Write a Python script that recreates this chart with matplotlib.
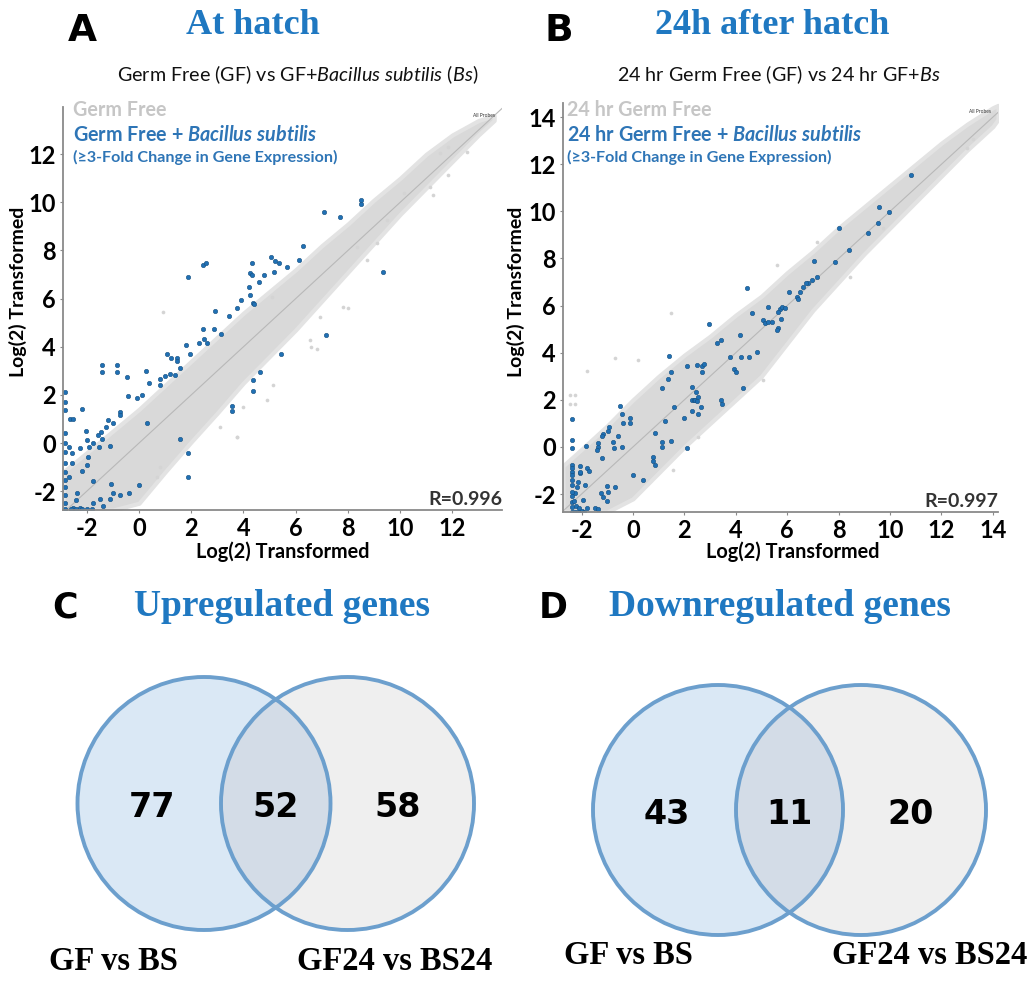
import matplotlib
matplotlib.use('Agg')
import matplotlib.pyplot as plt
from matplotlib.patches import Circle

W, H = 1036, 983
plt.rcParams['font.family'] = ['Lato', 'DejaVu Sans']
plt.rcParams['mathtext.fontset'] = 'custom'
plt.rcParams['mathtext.rm'] = 'Lato'
plt.rcParams['mathtext.it'] = 'Lato:italic'
plt.rcParams['mathtext.bf'] = 'Lato:bold'
plt.rcParams['mathtext.bfit'] = 'Lato:italic:bold'

# ---------------- data ----------------
# Panel A: gray cloud envelope (all probes)
a_band_x = [-2.9, -2, -1, 0, 1, 2, 3, 4, 5, 6, 7, 8, 9, 10, 11, 12, 13, 13.6]
a_band_lo = [-2.78, -2.78, -2.78, -2.5, -1.2, 0.05, 1.25, 2.5, 3.6, 4.7, 5.9, 7.1, 8.3, 9.5, 10.6, 11.7, 12.8, 13.4]
a_band_hi = [-1.2, -0.4, 0.5, 1.4, 2.4, 3.4, 4.4, 5.4, 6.3, 7.2, 8.2, 9.1, 10.1, 11.0, 12.0, 12.8, 13.4, 13.6]
a_gray_x = [0.93, 3.75, 8.02, 6.6, 6.8, 11.53, 11.85, 12.55, 11.15, 11.27, 11.85, 7.83, 6.93, 6.55,
            9.49, 9.11, 8.34, 8.72, 5.08, 10.13, 5.15, 4.89, 3.74, 3.1, 0.8, 0.68, 4.0]
a_gray_y = [5.45, 0.25, 5.6, 4.0, 3.9, 12.03, 12.3, 12.1, 10.65, 10.3, 11.14, 5.66, 5.25, 4.28,
            9.27, 8.3, 8.16, 7.6, 6.08, 10.37, 2.4, 1.79, 0.27, 0.68, -0.99, -1.4, 1.51]
a_blue_x = [8.5, 8.5, 7.09, 7.7, 6.27, 6.14, 5.06, 5.21, 5.37, 5.67, 4.33, 4.25, 4.33, 4.8, 4.6, 5.17,
            2.45, 2.55, 1.88, 4.2, 4.25, 4.37, 3.9, 3.77, 3.45, 2.9, 4.41,
            2.44, 2.87, 3.13, 1.8, 1.95, 2.29, 2.49, 2.59, 1.06, 1.22, 1.44, 1.44, 1.57,
            -1.41, -1.41, -0.83, -0.83, -0.45, 0.27, 0.39, 0.8, 0.8, 1.01, 1.19, 1.38,
            -0.41, -0.09, 0.11, -0.73, -0.73, 0.32, -2.2, -2.64, -2.54,
            -1.17, -1.01, -1.28, -1.47, -1.56, -1.43, -1.75, -1.52, -1.11, -2.03, -2.0, -2.26, -1.9,
            -2.55, -2.68, -1.94, -1.98, -2.2, -2.58, -1.75, -2.68, -2.39, -2.41, -2.52, -2.26,
            -2.85, -2.85, -2.85, -2.85, -2.85, -2.85, -2.85, -2.85, -2.85, -2.85, -2.85, -2.85, -2.85,
            -2.6, -2.4, -2.2, -2.0, -1.8,
            -1.08, 0.0, -0.37, -0.73, -1.11, -0.98, -1.49, -1.75, -1.37,
            1.57, 1.88, 1.88, 3.55, 3.55, 4.38, 4.38, 4.64, 5.44, 7.15, 9.34]
a_blue_y = [10.1, 9.95, 9.6, 9.4, 8.2, 7.6, 7.74, 7.56, 7.47, 7.32, 7.47, 7.06, 6.97, 6.97, 6.7, 7.1,
            7.38, 7.5, 6.9, 6.5, 6.15, 5.83, 5.94, 5.6, 5.27, 5.48, 5.78,
            4.72, 4.75, 4.53, 4.07, 3.72, 4.14, 4.32, 4.14, 3.68, 3.52, 3.52, 3.42, 3.1,
            3.24, 2.96, 3.23, 2.94, 2.76, 3.01, 2.48, 2.65, 2.41, 2.78, 2.87, 2.83,
            1.97, 1.86, 2.0, 1.3, 1.16, 0.84, 1.41, 1.02, 1.02,
            0.96, 0.82, 0.68, 0.47, 0.33, 0.19, -0.01, -0.15, -0.11, 0.5, 0.12, -0.22, -0.15,
            -0.43, -0.15, -0.57, -0.89, -1.16, -0.84, -1.58, -1.4, -2.09, -2.37, -2.71, -2.71,
            2.13, 1.72, 1.37, 0.4, -0.01, -0.36, -0.84, -1.19, -1.53, -1.81, -2.16, -2.5, -2.74,
            -2.72, -2.72, -2.72, -2.72, -2.72,
            -1.68, -1.75, -2.06, -2.16, -2.33, -2.09, -2.33, -2.48, -2.6,
            0.19, -0.43, -1.4, 1.54, 1.33, 2.64, 2.17, 2.94, 3.7, 4.5, 7.1]

# Panel B
b_band_x = [-2.72, -2, -1, 0, 1, 2, 3, 4, 5, 6, 7, 8, 9, 10, 11, 12, 13, 14, 14.2]
b_band_lo = [-2.76, -2.76, -2.76, -2.2, -1.1, 0.0, 1.0, 2.0, 3.0, 4.4, 5.8, 7.0, 8.2, 9.3, 10.4, 11.5, 12.6, 13.6, 13.9]
b_band_hi = [-0.8, -0.1, 0.9, 2.0, 3.0, 3.9, 4.7, 5.6, 6.4, 7.4, 8.3, 9.3, 10.2, 11.1, 12.0, 12.9, 13.7, 14.4, 14.5]
b_gray_x = [-1.8, 1.5, -0.7, -2.45, -2.26, -2.45, -2.26, 5.07, 2.54, 0.2, 1.56, 12.98, 13.24, 5.59, 7.15, 8.44, 9.74]
b_gray_y = [3.24, 5.67, 3.76, 2.21, 2.21, 1.82, 1.82, 2.84, 0.44, 3.69, -0.98, 12.67, 13.09, 7.72, 8.71, 7.23, 9.28]
b_blue_x = [10.8, 9.56, 9.95, 9.52, 9.13, 8.03, 8.4, 7.86, 7.06, 7.17, 6.98, 6.82, 6.63, 6.73, 6.5, 6.37, 6.41,
            6.08, 5.27, 5.72, 5.81, 5.66, 5.91, 5.07, 5.14, 5.27, 5.4, 5.76, 5.66, 5.59, 4.62, 4.42, 4.16,
            3.41, 3.26, 2.97, 4.81,
            1.4, 2.09, 2.48, 2.7, 2.78, 1.47, 2.67, 3.77, 4.19, 4.51, 3.94, 4.0, 4.27, 1.37, 1.12, 2.28,
            2.45, 2.52, 2.3, 2.37, 2.43, 2.49, 3.41, 3.45, 1.61, 2.28, 2.63, 2.54, 1.99, -0.5, -0.41, -0.39,
            -0.12, -0.12, 1.25, 0.85, 1.14, 1.15, 1.47, 2.09, 0.77, 0.79, 0.85, -0.01, 0.38,
            -0.92, -0.96, -1.15, -1.22, -0.6, -0.79, -1.34, -1.37, -1.41, -0.75, -0.44, -1.84, -1.19,
            -1.78, -1.7, -2.06, -1.87, -1.0, -0.96, -0.7, -1.26, -1.15, -1.02, -1.48, -1.35, -2.15, -2.19,
            -2.26, -1.93, -2.06, -2.06,
            -2.36, -2.36, -2.36, -2.36, -2.36, -2.36, -2.36, -2.36, -2.36, -2.36, -2.36, -2.36, -2.36, -2.36,
            -2.2, -2.1, -2.0, -1.9, -2.25, -2.15, -1.8, -2.3]
b_blue_y = [11.54, 10.2, 9.98, 9.49, 9.09, 9.3, 8.36, 7.86, 7.9, 7.22, 7.08, 6.94, 6.8, 6.94, 6.59, 6.38, 6.28,
            6.56, 5.95, 5.86, 5.93, 5.74, 5.88, 5.39, 5.25, 5.32, 5.32, 5.43, 5.03, 4.96, 5.67, 6.76, 4.75,
            4.54, 4.4, 5.22, 4.04,
            3.86, 3.44, 3.48, 3.45, 3.52, 3.2, 3.2, 3.8, 3.8, 3.8, 3.29, 3.18, 2.49, 2.89, 2.49, 2.56,
            2.34, 2.13, 1.98, 2.0, 1.98, 1.96, 1.98, 1.84, 1.68, 1.54, 1.68, 1.38, 1.24, 1.73, 1.42, 1.03,
            1.24, 1.03, 1.1, 0.58, 0.2, 0.0, 0.27, -0.03, -0.41, -0.6, -0.78, -1.19, -1.4,
            0.84, 0.67, 0.55, 0.45, 0.46, 0.2, 0.15, 0.01, -0.13, -0.06, 0.01, 0.04, -0.46,
            -0.9, -1.0, -1.09, -1.6, -1.64, -1.9, -1.71, -1.97, -2.11, -2.28, -2.6, -2.63, -1.47, -1.68,
            -1.97, -2.25, -0.79, -1.07,
            1.19, 0.29, -0.03, -0.77, -0.9, -1.05, -1.19, -1.4, -1.61, -1.9, -2.1, -2.32, -2.53, -2.74,
            -2.5, -2.6, -2.7, -2.74, -2.74, -2.74, -2.6, -2.3]

a_ticks = [-2, 0, 2, 4, 6, 8, 10, 12]
b_ticks = [-2, 0, 2, 4, 6, 8, 10, 12, 14]
r_values = ['R=0.996', 'R=0.997']

# Venn data
venn_labels = ['GF vs BS', 'GF24 vs BS24']
up_counts = [77, 52, 58]
down_counts = [43, 11, 20]

# ---------------- helpers ----------------
fig = plt.figure(figsize=(W / 100, H / 100), dpi=100)


def fx(px):
    return px / W


def fy(py):
    return 1 - py / H


def axrect(l, t, r, b):
    return [fx(l), fy(b), (r - l) / W, (b - t) / H]


BLUE_T = '#1f78c1'
BLUE_L = '#2e75b6'
GRAY_L = '#c6c6c6'


def scatter_panel(rect, xlim, ylim, ticks, bx, blo, bhi, gx, gy, ux, uy, rtext):
    ax = fig.add_axes(rect)
    ax.fill_between(bx, blo, bhi, facecolor='#d9d9d9', edgecolor='#e3e3e3', lw=3, zorder=1)
    ax.scatter(gx, gy, s=7, color='#d4d4d4', lw=0, zorder=1)
    ax.axline((0, 0), slope=1, color='#b8b8b8', lw=0.8, zorder=2)
    ax.scatter(ux, uy, s=10, color='#2070b4', edgecolor='#17507f', lw=0.4, zorder=3)
    ax.set_xlim(*xlim)
    ax.set_ylim(*ylim)
    ax.set_xticks(ticks)
    ax.set_yticks(ticks)
    ax.set_xticklabels([str(t) for t in ticks])
    ax.set_yticklabels([str(t) for t in ticks])
    for s in ['top', 'right']:
        ax.spines[s].set_visible(False)
    for s in ['left', 'bottom']:
        ax.spines[s].set_color('#8a8a8a')
        ax.spines[s].set_linewidth(1.3)
        ax.spines[s].set_zorder(4)
    ax.tick_params(length=2, width=0.8, color='#8a8a8a', labelsize=17, pad=3)
    for lab in ax.get_xticklabels() + ax.get_yticklabels():
        lab.set_fontweight('bold')
    ax.text(1.0, 0.005, rtext, transform=ax.transAxes, ha='right', va='bottom',
            fontsize=14, color='#333333', fontweight='bold')
    ax.text(0.985, 0.985, 'All Probes', transform=ax.transAxes, ha='right', va='top',
            fontsize=3.5, color='#333333')
    return ax


axA = scatter_panel(axrect(63, 107, 502, 510), (-2.91, 13.9), (-2.78, 13.96), a_ticks,
                    a_band_x, a_band_lo, a_band_hi, a_gray_x, a_gray_y, a_blue_x, a_blue_y, r_values[0])
axB = scatter_panel(axrect(563, 103, 998, 512), (-2.72, 14.2), (-2.76, 14.6), b_ticks,
                    b_band_x, b_band_lo, b_band_hi, b_gray_x, b_gray_y, b_blue_x, b_blue_y, r_values[1])

# axis labels
for cx in (283, 793):
    fig.text(fx(cx), fy(552), 'Log(2) Transformed', ha='center', va='center', fontsize=14.3, fontweight='bold')
for cx in (18, 516):
    fig.text(fx(cx), fy(292), 'Log(2) Transformed', ha='center', va='center', rotation=90,
             fontsize=14, fontweight='bold')

# panel titles
serif = ['Liberation Serif', 'DejaVu Serif']
fig.text(fx(82), fy(31), 'A', ha='center', va='center', fontsize=27, fontweight='heavy', family='DejaVu Sans')
fig.text(fx(559), fy(31), 'B', ha='center', va='center', fontsize=27, fontweight='heavy', family='DejaVu Sans')
fig.text(fx(253), fy(25), 'At hatch', ha='center', va='center', fontsize=26, fontweight='bold',
         family=serif, color=BLUE_T)
fig.text(fx(772), fy(25), '24h after hatch', ha='center', va='center', fontsize=26, fontweight='bold',
         family=serif, color=BLUE_T)

fig.text(fx(117), fy(75), r'Germ Free (GF) vs GF+$\mathit{Bacillus\ subtilis\ (Bs)}$', ha='left', va='center',
         fontsize=14.2, color='#111111')
fig.text(fx(617), fy(75), r'24 hr Germ Free (GF) vs 24 hr GF+$\mathit{Bs}$', ha='left', va='center',
         fontsize=14.2, color='#111111')

# in-plot legends
fig.text(fx(73), fy(110), 'Germ Free', ha='left', va='center', fontsize=14.2, fontweight='bold', color=GRAY_L)
fig.text(fx(73), fy(135), r'Germ Free + $\mathbfit{Bacillus\ subtilis}$', ha='left', va='center',
         fontsize=14.2, fontweight='bold', color=BLUE_L)
fig.text(fx(73), fy(157), '(≥3-Fold Change in Gene Expression)', ha='left', va='center',
         fontsize=11.6, fontweight='bold', color=BLUE_L)
fig.text(fx(567), fy(110), '24 hr Germ Free', ha='left', va='center', fontsize=14.2, fontweight='bold', color=GRAY_L)
fig.text(fx(567), fy(135), r'24 hr Germ Free + $\mathbfit{Bacillus\ subtilis}$', ha='left', va='center',
         fontsize=14.2, fontweight='bold', color=BLUE_L)
fig.text(fx(567), fy(157), '(≥3-Fold Change in Gene Expression)', ha='left', va='center',
         fontsize=11.6, fontweight='bold', color=BLUE_L)

# ---------------- Venn diagrams ----------------
axV = fig.add_axes([0, 0, 1, 1], zorder=-1)
axV.set_xlim(0, W)
axV.set_ylim(H, 0)
axV.axis('off')


def venn(c1, c2, cy, r, counts, letter, letter_x, title, title_x, label_y, label_xs):
    edge = '#6c9fcd'
    left = Circle((c1, cy), r, fc='#dae8f5', ec='none')
    right = Circle((c2, cy), r, fc='#efefef', ec='none')
    axV.add_patch(right)
    axV.add_patch(left)
    inter = Circle((c2, cy), r, fc='#d3dce7', ec='none')
    axV.add_patch(inter)
    inter.set_clip_path(left)
    for c in (c1, c2):
        axV.add_patch(Circle((c, cy), r, fc='none', ec=edge, lw=2.8))
    d = c2 - c1
    pos = [c1 - 0.36 * d, (c1 + c2) / 2, c2 + 0.35 * d]
    for p, n in zip(pos, counts):
        axV.text(p, cy + 4, str(n), ha='center', va='center', fontsize=24, fontweight='bold',
                 family='DejaVu Sans')
    axV.text(letter_x, 608, letter, ha='center', va='center', fontsize=25, fontweight='heavy',
             family='DejaVu Sans')
    axV.text(title_x, 607, title, ha='center', va='center', fontsize=27, fontweight='bold',
             family=serif, color=BLUE_T)
    for lx, lab in zip(label_xs, venn_labels):
        axV.text(lx, label_y, lab, ha='center', va='center', fontsize=23.5, fontweight='bold',
                 family=serif)


venn(204, 347.5, 803.5, 126.5, up_counts, 'C', 65, 'Upregulated genes', 282, 962, (113, 395))
venn(718, 861, 810, 125, down_counts, 'D', 553, 'Downregulated genes', 780, 956, (628, 930))

fig.savefig('out.png', dpi=100)
